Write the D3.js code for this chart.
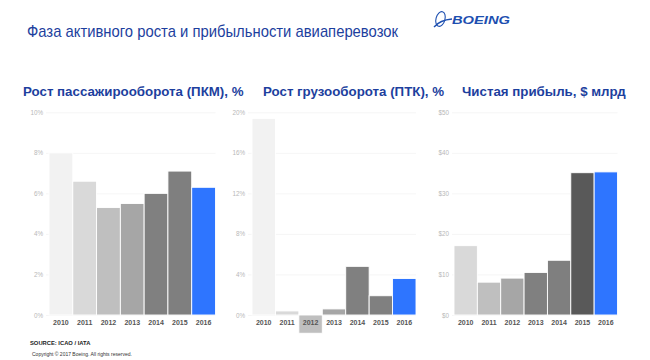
<!DOCTYPE html>
<html><head><meta charset="utf-8">
<script src="https://cdn.jsdelivr.net/npm/d3@7"></script>
<style>body{margin:0;background:#fff}svg{display:block;font-family:Arial,"Liberation Sans",sans-serif}</style>
</head><body><svg id="c" width="650" height="360"></svg>
<script>
const years = ["2010","2011","2012","2013","2014","2015","2016"];
const pkm = [8.0, 6.6, 5.3, 5.5, 6.0, 7.1, 6.3];
const ptk = [19.4, 0.4, -1.8, 0.6, 4.8, 1.9, 3.6];
const profit = [17.1, 8.1, 9.1, 10.5, 13.5, 35.1, 35.3];
const pkmTicks = [0, 2, 4, 6, 8, 10];
const ptkTicks = [0, 4, 8, 12, 16, 20];
const profitTicks = [0, 10, 20, 30, 40, 50];
const pkmColors = ["#f2f2f2","#d9d9d9","#bfbfbf","#a6a6a6","#808080","#7f7f7f","#2e75ff"];
const ptkColors = ["#f2f2f2","#d9d9d9","#bfbfbf","#a6a6a6","#808080","#808080","#2e75ff"];
const profitColors = ["#d9d9d9","#bfbfbf","#a6a6a6","#808080","#7f7f7f","#595959","#2e75ff"];

const svg = d3.select("#c");
const blue = "#1d3f9e";

svg.append("text").attr("x",27).attr("y",37).attr("font-size",17).attr("fill",blue)
  .attr("textLength",371).attr("lengthAdjust","spacingAndGlyphs")
  .text("Фаза активного роста и прибыльности авиаперевозок");

// Boeing logo
const logo = svg.append("g");
logo.append("ellipse").attr("cx",440.5).attr("cy",19).attr("rx",4.5).attr("ry",7.5)
  .attr("transform","rotate(15,440.5,19)")
  .attr("fill","none").attr("stroke","#1d4fb0").attr("stroke-width",1.1);
logo.append("path").attr("d","M434,27 Q440,20 452,19").attr("fill","none").attr("stroke","#1d4fb0").attr("stroke-width",1.3);
logo.append("text").attr("x",452).attr("y",24).attr("font-size",10.5).attr("font-weight","bold")
  .attr("font-style","italic").attr("fill","#1d4fb0")
  .attr("textLength",58).attr("lengthAdjust","spacingAndGlyphs").text("BOEING");

function chart(opt){
  const g = svg.append("g");
  const y = d3.scaleLinear().domain([0, opt.ticks[opt.ticks.length-1]]).range([315, 112.3]);
  const x = d3.scaleBand().domain(years).range([opt.x0, opt.x1]).paddingInner(0);
  g.selectAll("line.grid").data(opt.ticks).join("line")
    .attr("x1",opt.gx).attr("x2",opt.x1).attr("y1",d=>y(d)+0.5).attr("y2",d=>y(d)+0.5)
    .attr("stroke","#f3f3f3").attr("stroke-width",0.8);
  const ax = d3.axisLeft(y).tickValues(opt.ticks).tickSize(0).tickPadding(0).tickFormat(opt.fmt);
  const axg = g.append("g").attr("transform",`translate(${opt.lx},0)`).call(ax);
  axg.select(".domain").remove();
  axg.selectAll("text").attr("fill","#b8b8b8").attr("font-size",6.3).attr("font-family","Arial,'Liberation Sans',sans-serif");
  g.selectAll("rect.bar").data(opt.values).join("rect")
    .attr("x",(d,i)=>x(years[i])).attr("width",x.bandwidth())
    .attr("y",d=>y(Math.max(0,d))).attr("height",d=>Math.abs(y(d)-y(0)))
    .attr("fill",(d,i)=>opt.colors[i]).attr("stroke","#fff").attr("stroke-width",0.9);
  const xa = d3.axisBottom(x).tickSize(0).tickPadding(0);
  const xg = g.append("g").attr("transform","translate(0,320)").call(xa);
  xg.select(".domain").remove();
  xg.selectAll("text").attr("fill","#555").attr("font-size",7).attr("font-weight","bold")
    .attr("font-family","Arial,'Liberation Sans',sans-serif").attr("dy","0.71em");
  svg.append("text").attr("x",opt.tx).attr("y",96).attr("font-size",13.3).attr("font-weight","bold")
    .attr("fill",blue).text(opt.title);
}

chart({values:pkm, ticks:pkmTicks, colors:pkmColors, x0:49, x1:215.5, gx:46, lx:43,
  fmt:d=>d+"%", title:"Рост пассажирооборота (ПКМ), %", tx:23});
chart({values:ptk, ticks:ptkTicks, colors:ptkColors, x0:252, x1:416, gx:248, lx:245,
  fmt:d=>d+"%", title:"Рост грузооборота (ПТК), %", tx:263});
chart({values:profit, ticks:profitTicks, colors:profitColors, x0:454, x1:617.5, gx:452, lx:449,
  fmt:d=>"$"+d, title:"Чистая прибыль, $ млрд", tx:462});

svg.append("text").attr("x",30).attr("y",345).attr("font-size",5.8).attr("font-weight","bold")
  .attr("fill","#222").text("SOURCE: ICAO /  IATA");
svg.append("text").attr("x",32).attr("y",356).attr("font-size",5).attr("fill","#333")
  .text("Copyright © 2017 Boeing. All rights reserved.");
</script></body></html>
